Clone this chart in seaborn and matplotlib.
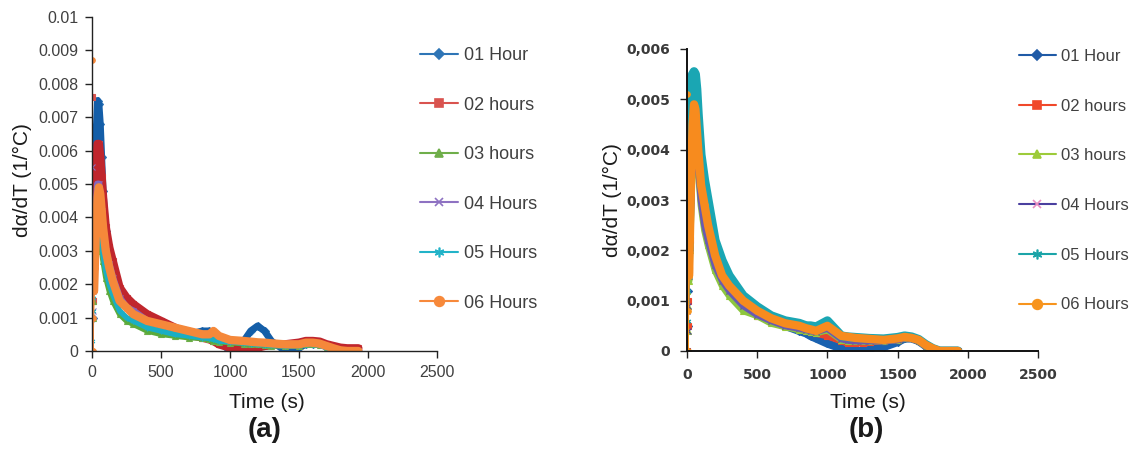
import matplotlib
matplotlib.use("Agg")
import matplotlib.pyplot as plt
from matplotlib.lines import Line2D
import seaborn as sns
import pandas as pd

# ---------------- data ----------------
time_s = [0, 2, 5, 10, 15, 20, 30, 40, 50, 60, 70, 80, 100, 125, 150, 200, 250, 300,
          400, 500, 600, 700, 800, 850, 880, 920, 1000, 1100, 1150, 1200, 1250, 1300,
          1400, 1500, 1550, 1600, 1650, 1700, 1750, 1800, 1850, 1930]

series_labels = ["01 Hour", "02 hours", "03 hours", "04 Hours", "05 Hours", "06 Hours"]

# panel (a)
a_h1 = [0.0, 0.0067, 0.0010, 0.0020, 0.0030, 0.0045, 0.0065, 0.0075, 0.0074, 0.0068, 0.0058, 0.0048,
        0.0036, 0.0029, 0.0025, 0.0017, 0.0013, 0.0011, 0.0008, 0.0007, 0.0006, 0.0005, 0.0006, 0.0006,
        0.0005, 0.0003, 0.0, 0.0003, 0.0006, 0.00075, 0.0006, 0.0003, 0.0, 0.0001, 0.0002, 0.0002,
        0.0002, 0.00012, 0.00005, 0.0, 0.0, 0.0]
a_h2 = [0.0076, 0.0034, 0.0015, 0.0020, 0.0030, 0.0040, 0.0055, 0.0062, 0.0062, 0.0058, 0.0052, 0.0046,
        0.0037, 0.0031, 0.0027, 0.0019, 0.0016, 0.0014, 0.0011, 0.0009, 0.0007, 0.0005, 0.0004, 0.00035,
        0.0003, 0.0002, 0.0001, 0.00005, 0.00005, 0.0001, 0.00015, 0.0002, 0.0002, 0.00025, 0.0003, 0.0003,
        0.00028, 0.0002, 0.00015, 0.0001, 0.00008, 0.00008]
a_h3 = [0.0, 0.0026, 0.0010, 0.0015, 0.0020, 0.0028, 0.0035, 0.0040, 0.0039, 0.0035, 0.0030, 0.0027,
        0.0022, 0.0018, 0.0015, 0.0011, 0.0009, 0.0008, 0.0006, 0.0005, 0.00045, 0.0004, 0.00038, 0.00035,
        0.0003, 0.00028, 0.00025, 0.00022, 0.0002, 0.0002, 0.00018, 0.00016, 0.00015, 0.00015, 0.0002, 0.0002,
        0.00018, 0.00012, 0.00005, 0.0, 0.0, 0.0]
a_h4 = [0.0055, 0.0020, 0.0012, 0.0018, 0.0026, 0.0034, 0.0044, 0.0050, 0.0050, 0.0047, 0.0042, 0.0037,
        0.0030, 0.0026, 0.0022, 0.0016, 0.0013, 0.0012, 0.0009, 0.0008, 0.0007, 0.0006, 0.0005, 0.0005,
        0.00055, 0.0004, 0.0003, 0.00028, 0.00026, 0.00025, 0.00024, 0.00022, 0.0002, 0.0002, 0.00024, 0.00024,
        0.0002, 0.00014, 0.00007, 0.00002, 0.0, 0.0]
a_h5 = [0.0042, 0.0003, 0.0012, 0.0016, 0.0022, 0.0028, 0.0036, 0.0041, 0.0042, 0.0038, 0.0033, 0.0029,
        0.0024, 0.0020, 0.0017, 0.0012, 0.0010, 0.0009, 0.0007, 0.0006, 0.0005, 0.00045, 0.0004, 0.00038,
        0.00035, 0.0003, 0.00028, 0.00024, 0.00022, 0.0002, 0.00019, 0.00017, 0.00015, 0.00016, 0.0002, 0.0002,
        0.00018, 0.0001, 0.00004, 0.0, 0.0, 0.0]
a_h6 = [0.0087, 0.0040, 0.0, 0.0010, 0.0018, 0.0025, 0.0038, 0.0046, 0.0049, 0.0047, 0.0042, 0.0037,
        0.0030, 0.0025, 0.0021, 0.0015, 0.0013, 0.0011, 0.0009, 0.0008, 0.0007, 0.0006, 0.0005, 0.0005,
        0.0006, 0.00045, 0.00033, 0.0003, 0.00028, 0.00026, 0.00025, 0.00023, 0.0002, 0.0002, 0.00025, 0.00025,
        0.00022, 0.00015, 0.00008, 0.00002, 0.0, 0.0]

# panel (b)
b_h1 = [0.00545, 0.0, 0.0005, 0.0012, 0.0020, 0.0030, 0.0045, 0.0055, 0.0055, 0.0053, 0.0048, 0.0043,
        0.0036, 0.0031, 0.0027, 0.0020, 0.0016, 0.0013, 0.0010, 0.0008, 0.0006, 0.0005, 0.0004, 0.00035,
        0.0003, 0.00025, 0.00015, 0.00005, 0.0, 0.0, 0.0, 0.00002, 0.00008, 0.00018, 0.00025, 0.00025,
        0.0002, 0.0001, 0.00003, 0.0, 0.0, 0.0]
b_h2 = [0.0024, 0.0, 0.0005, 0.0010, 0.0016, 0.0022, 0.0034, 0.0043, 0.0047, 0.0046, 0.0042, 0.0038,
        0.0031, 0.0027, 0.0023, 0.0017, 0.0014, 0.0012, 0.0009, 0.0007, 0.0006, 0.0005, 0.00045, 0.0004,
        0.00038, 0.00035, 0.0003, 0.0002, 0.00015, 0.00015, 0.00016, 0.00018, 0.0002, 0.00022, 0.00026, 0.00025,
        0.0002, 0.0001, 0.00003, 0.0, 0.0, 0.0]
b_h3 = [0.0, 0.0012, 0.0004, 0.0009, 0.0014, 0.0020, 0.0030, 0.0040, 0.0045, 0.0044, 0.0040, 0.0036,
        0.0029, 0.0024, 0.0021, 0.0016, 0.0013, 0.0011, 0.0008, 0.0007, 0.00055, 0.00048, 0.00042, 0.0004,
        0.00038, 0.00036, 0.00042, 0.00022, 0.0002, 0.0002, 0.0002, 0.0002, 0.0002, 0.00022, 0.00026, 0.00025,
        0.0002, 0.0001, 0.00003, 0.0, 0.0, 0.0]
b_h4 = [0.0008, 0.0, 0.0004, 0.0009, 0.0015, 0.0021, 0.0032, 0.0041, 0.0046, 0.0045, 0.0041, 0.0037,
        0.0030, 0.0025, 0.0022, 0.0017, 0.0014, 0.0012, 0.0009, 0.00072, 0.0006, 0.0005, 0.00045, 0.00042,
        0.0004, 0.00038, 0.00045, 0.00024, 0.00021, 0.0002, 0.0002, 0.0002, 0.0002, 0.00022, 0.00026, 0.00025,
        0.0002, 0.0001, 0.00003, 0.0, 0.0, 0.0]
b_h5 = [0.0, 0.0010, 0.0006, 0.0012, 0.0020, 0.0030, 0.0046, 0.0055, 0.00555, 0.0055, 0.0052, 0.0047,
        0.0039, 0.0034, 0.0030, 0.0022, 0.0018, 0.0015, 0.0011, 0.00088, 0.0007, 0.0006, 0.00055, 0.0005,
        0.0005, 0.00048, 0.0006, 0.0003, 0.00028, 0.00027, 0.00026, 0.00025, 0.00024, 0.00027, 0.0003, 0.00028,
        0.00023, 0.00013, 0.00005, 0.0, 0.0, 0.0]
b_h6 = [0.0051, 0.0025, 0.0, 0.0008, 0.0015, 0.0022, 0.0035, 0.0045, 0.0049, 0.0048, 0.0044, 0.0040,
        0.0033, 0.0029, 0.0025, 0.0019, 0.0015, 0.0013, 0.0010, 0.0008, 0.00065, 0.00055, 0.0005, 0.00045,
        0.00043, 0.0004, 0.0005, 0.0003, 0.00028, 0.00026, 0.00025, 0.00024, 0.00022, 0.00025, 0.00028, 0.00026,
        0.00022, 0.00012, 0.00005, 0.0, 0.0, 0.0]

x_ticks = [0, 500, 1000, 1500, 2000, 2500]
a_yticks = [0, 0.001, 0.002, 0.003, 0.004, 0.005, 0.006, 0.007, 0.008, 0.009, 0.01]
a_yticklabels = ["0", "0.001", "0.002", "0.003", "0.004", "0.005", "0.006", "0.007", "0.008", "0.009", "0.01"]
b_yticks = [0, 0.001, 0.002, 0.003, 0.004, 0.005, 0.006]
b_yticklabels = ["0", "0,001", "0,002", "0,003", "0,004", "0,005", "0,006"]

# ---------------- style ----------------
sns.set_style("white")
plt.rcParams["font.family"] = ["Liberation Sans", "DejaVu Sans"]

W, H = 1134, 450
fig = plt.figure(figsize=(W / 100, H / 100), dpi=100)


def fx(px):
    return px / W


def fy(py):
    return 1 - py / H


axA = fig.add_axes([fx(92), fy(351), fx(437) - fx(92), fy(17) - fy(351)])
axB = fig.add_axes([fx(687), fy(351), fx(1038) - fx(687), fy(49) - fy(351)])

markers = ["D", "s", "^", "x", (6, 2, 0), "o"]
msizes = [5, 6, 6, 6, 7, 7]
colA_line = ["#2e75b6", "#d9534f", "#6fae4a", "#8e72c2", "#22b3c8", "#f7893b"]
colA_band = ["#145ea8", "#c0262d", "#5aab3c", "#8566bd", "#1aaec4", "#f5883a"]
colB_line = ["#1f5aa6", "#f0482a", "#9dcb3a", "#4a3f9f", "#1ba4a8", "#f7941d"]
colB_band = ["#1a62b0", "#e8452c", "#8cc63f", "#6a5ab0", "#1aa6b3", "#f78b1e"]
colB_marker = ["#1f5aa6", "#f0482a", "#9dcb3a", "#e98dc1", "#1ba4a8", "#f7941d"]

A_data = [a_h1, a_h2, a_h3, a_h4, a_h5, a_h6]
B_data = [b_h1, b_h2, b_h3, b_h4, b_h5, b_h6]
A_lw = [5, 6, 4, 5, 4, 6]
B_lw = [6, 5, 5, 5, 6.5, 6]


def draw(ax, datas, band_cols, line_cols, lws):
    for i, vals in enumerate(datas):
        df = pd.DataFrame({"t": time_s, "v": vals})
        sns.lineplot(data=df, x="t", y="v", ax=ax, color=line_cols[i], lw=1.2,
                     marker=markers[i], markersize=4, markeredgewidth=0.8,
                     markeredgecolor=line_cols[i], sort=False, estimator=None, legend=False)
        sub = df.iloc[4:]
        sns.lineplot(data=sub, x="t", y="v", ax=ax, color=band_cols[i], lw=lws[i],
                     sort=False, estimator=None, legend=False, solid_capstyle="round")


draw(axA, A_data, colA_band, colA_line, A_lw)
draw(axB, B_data, colB_band, colB_line, B_lw)

# ---------------- axes ----------------
for ax, yt, ytl, ymax in [(axA, a_yticks, a_yticklabels, 0.01), (axB, b_yticks, b_yticklabels, 0.006)]:
    ax.set_xlim(0, 2500)
    ax.set_ylim(0, ymax)
    ax.set_xticks(x_ticks)
    ax.set_xticklabels([str(v) for v in x_ticks])
    ax.set_yticks(yt)
    ax.set_yticklabels(ytl)
    ax.set_xlabel("")
    ax.set_ylabel("")
    for s in ["top", "right"]:
        ax.spines[s].set_visible(False)
    ax.set_facecolor("none")
    ax.tick_params(axis="both", which="both", direction="out", length=5, width=1,
                   color="#222222", bottom=True, left=True)

for sp in ["left", "bottom"]:
    axA.spines[sp].set_color("#222222")
    axA.spines[sp].set_linewidth(1.0)
    axB.spines[sp].set_color("#111111")
    axB.spines[sp].set_linewidth(1.4)

axA.tick_params(axis="both", labelsize=11.5, labelcolor="#404040", pad=5)
axB.tick_params(axis="both", labelsize=10, labelcolor="#3a3a3a", pad=7)
for lab in axB.get_xticklabels() + axB.get_yticklabels():
    lab.set_family(["DejaVu Sans"])
    lab.set_fontweight("bold")

# ---------------- legends ----------------
def handles(line_cols, marker_cols):
    return [Line2D([0], [0], color=line_cols[i], lw=1.5, marker=markers[i], markersize=msizes[i],
                   markerfacecolor=marker_cols[i], markeredgecolor=marker_cols[i], markeredgewidth=1.2)
            for i in range(6)]


legA = fig.legend(handles(colA_line, colA_line), series_labels, loc="upper left",
                  bbox_to_anchor=(fx(404), fy(31)), frameon=False, handlelength=2.1,
                  handletextpad=0.3, labelspacing=1.8, prop={"size": 13})
for t in legA.get_texts():
    t.set_color("#404040")

legB = fig.legend(handles(colB_line, colB_marker), series_labels, loc="upper left",
                  bbox_to_anchor=(fx(1004), fy(34)), frameon=False, handlelength=2.2,
                  handletextpad=0.3, labelspacing=2.08, prop={"size": 12})
for t in legB.get_texts():
    t.set_color("#404040")

# ---------------- labels ----------------
ylab = "dα/dT (1/°C)"
fig.text(fx(22), fy(180), ylab, rotation=90, ha="center", va="center", fontsize=15, color="#1a1a1a")
fig.text(fx(612), fy(200), ylab, rotation=90, ha="center", va="center", fontsize=15, color="#1a1a1a")
fig.text(fx(267), fy(402), "Time (s)", ha="center", va="center", fontsize=15, color="#1a1a1a")
fig.text(fx(868), fy(402), "Time (s)", ha="center", va="center", fontsize=15, color="#1a1a1a")
fig.text(fx(265), fy(430), "(a)", ha="center", va="center", fontsize=20, fontweight="bold", color="#1a1a1a")
fig.text(fx(866), fy(430), "(b)", ha="center", va="center", fontsize=20, fontweight="bold", color="#1a1a1a")

fig.savefig("out.png", dpi=100, facecolor="white")
